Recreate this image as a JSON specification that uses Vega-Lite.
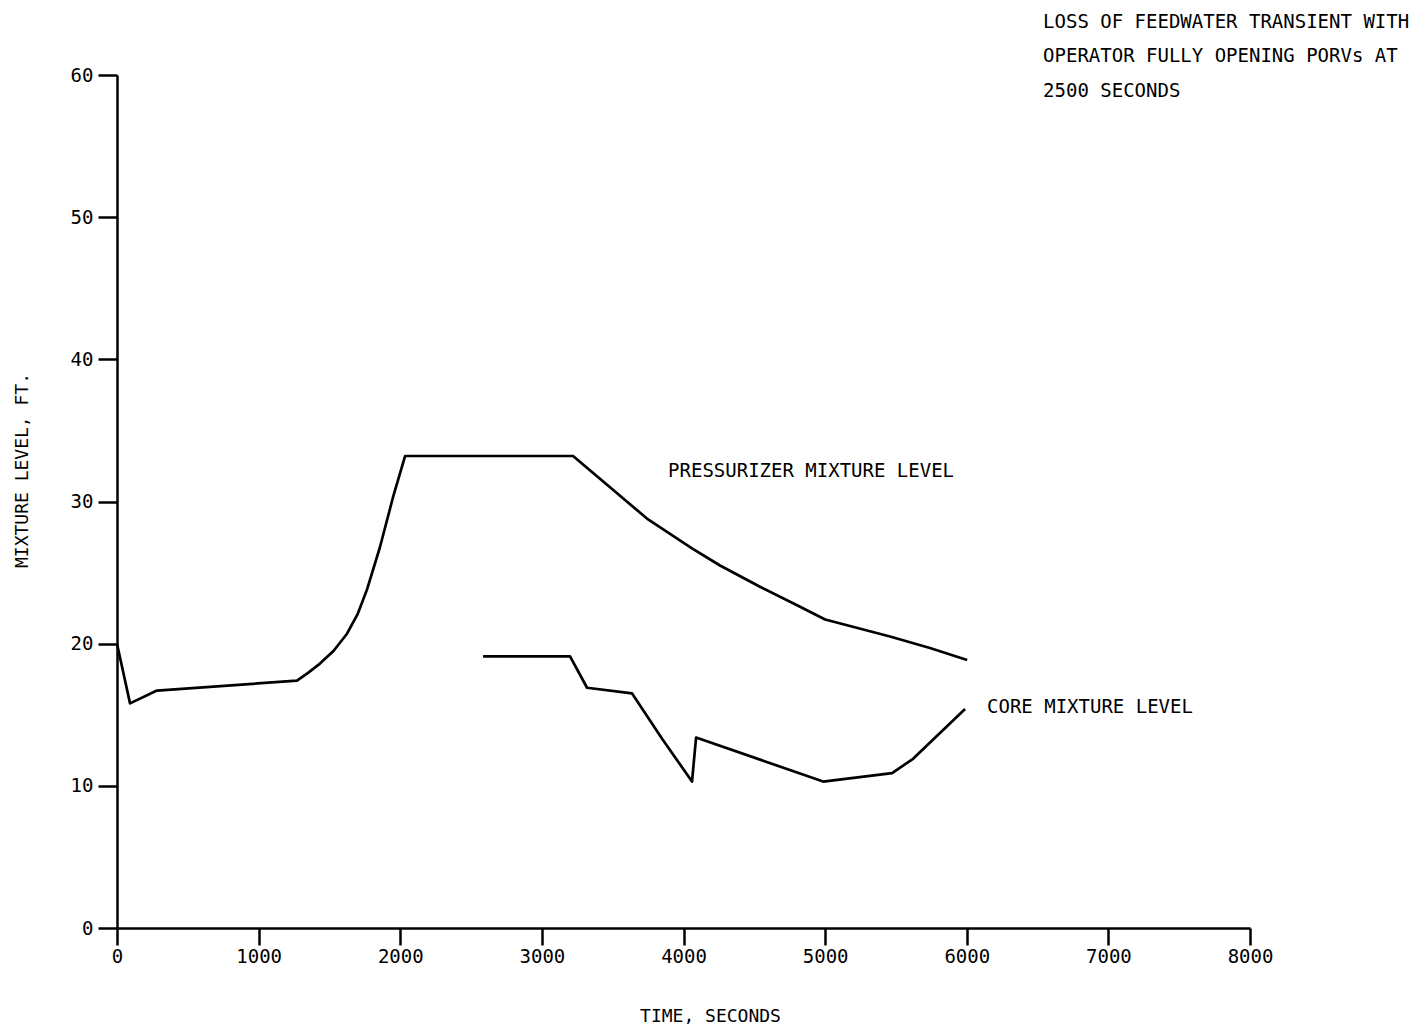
{
  "$schema": "https://vega.github.io/schema/vega-lite/v6.json",
  "autosize": "none",
  "width": 1133,
  "height": 853,
  "padding": {"left": 117, "top": 75, "right": 176, "bottom": 105},
  "background": "white",
  "config": {
    "view": {"stroke": null},
    "font": "DejaVu Sans Mono",
    "axis": {
      "grid": false,
      "domainColor": "black",
      "domainWidth": 2.5,
      "tickColor": "black",
      "tickWidth": 2.5,
      "labelFont": "DejaVu Sans Mono",
      "labelFontSize": 19,
      "labelColor": "black",
      "labelFlush": false,
      "titleFont": "DejaVu Sans Mono",
      "titleFontSize": 18,
      "titleFontWeight": "normal",
      "titleColor": "black"
    }
  },
  "datasets": {
    "curves": [
      {"series": "pressurizer", "t": 0, "v": 20.0},
      {"series": "pressurizer", "t": 92, "v": 15.8},
      {"series": "pressurizer", "t": 282, "v": 16.7},
      {"series": "pressurizer", "t": 1271, "v": 17.4},
      {"series": "pressurizer", "t": 1349, "v": 17.95},
      {"series": "pressurizer", "t": 1433, "v": 18.6},
      {"series": "pressurizer", "t": 1530, "v": 19.5},
      {"series": "pressurizer", "t": 1624, "v": 20.7},
      {"series": "pressurizer", "t": 1700, "v": 22.1},
      {"series": "pressurizer", "t": 1765, "v": 23.8},
      {"series": "pressurizer", "t": 1857, "v": 26.8},
      {"series": "pressurizer", "t": 1949, "v": 30.3},
      {"series": "pressurizer", "t": 2034, "v": 33.2},
      {"series": "pressurizer", "t": 3220, "v": 33.2},
      {"series": "pressurizer", "t": 3481, "v": 31.0},
      {"series": "pressurizer", "t": 3742, "v": 28.8},
      {"series": "pressurizer", "t": 4060, "v": 26.7},
      {"series": "pressurizer", "t": 4258, "v": 25.5},
      {"series": "pressurizer", "t": 4540, "v": 24.0},
      {"series": "pressurizer", "t": 4823, "v": 22.6},
      {"series": "pressurizer", "t": 5000, "v": 21.7},
      {"series": "pressurizer", "t": 5458, "v": 20.5},
      {"series": "pressurizer", "t": 5740, "v": 19.7},
      {"series": "pressurizer", "t": 6003, "v": 18.85},
      {"series": "core", "t": 2585, "v": 19.1},
      {"series": "core", "t": 3199, "v": 19.1},
      {"series": "core", "t": 3319, "v": 16.9},
      {"series": "core", "t": 3637, "v": 16.5},
      {"series": "core", "t": 3850, "v": 13.3},
      {"series": "core", "t": 4060, "v": 10.3},
      {"series": "core", "t": 4089, "v": 13.4},
      {"series": "core", "t": 4986, "v": 10.3},
      {"series": "core", "t": 5473, "v": 10.9},
      {"series": "core", "t": 5621, "v": 11.9},
      {"series": "core", "t": 5988, "v": 15.4}
    ],
    "labels": [
      {"text": "PRESSURIZER MIXTURE LEVEL", "t": 3891, "v": 32.15},
      {"text": "CORE MIXTURE LEVEL", "t": 6143, "v": 15.55},
      {"text": "LOSS OF FEEDWATER TRANSIENT WITH", "t": 6539, "v": 63.73},
      {"text": "OPERATOR FULLY OPENING PORVs AT", "t": 6539, "v": 61.33},
      {"text": "2500 SECONDS", "t": 6539, "v": 58.87}
    ]
  },
  "layer": [
    {
      "data": {"name": "curves"},
      "mark": {"type": "line", "color": "black", "strokeWidth": 2.7, "strokeJoin": "round"},
      "encoding": {
        "x": {
          "field": "t", "type": "quantitative",
          "scale": {"domain": [0, 8000], "nice": false, "zero": false},
          "axis": {
            "values": [0, 1000, 2000, 3000, 4000, 5000, 6000, 7000, 8000],
            "format": "d",
            "tickSize": 17,
            "labelPadding": 2,
            "title": "TIME, SECONDS",
            "titleX": 593,
            "titleY": 88,
            "titleBaseline": "middle",
            "titleAnchor": null
          }
        },
        "y": {
          "field": "v", "type": "quantitative",
          "scale": {"domain": [0, 60], "nice": false},
          "axis": {
            "values": [0, 10, 20, 30, 40, 50, 60],
            "tickSize": 19,
            "labelPadding": 5,
            "title": "MIXTURE LEVEL, FT.",
            "titleX": -95,
            "titleY": 395,
            "titleAngle": -90,
            "titleAlign": "center",
            "titleBaseline": "middle"
          }
        },
        "detail": {"field": "series"}
      }
    },
    {
      "data": {"name": "labels"},
      "mark": {"type": "text", "align": "left", "baseline": "middle", "font": "DejaVu Sans Mono", "fontSize": 19, "color": "black"},
      "encoding": {
        "x": {"field": "t", "type": "quantitative"},
        "y": {"field": "v", "type": "quantitative"},
        "text": {"field": "text"}
      }
    }
  ]
}
